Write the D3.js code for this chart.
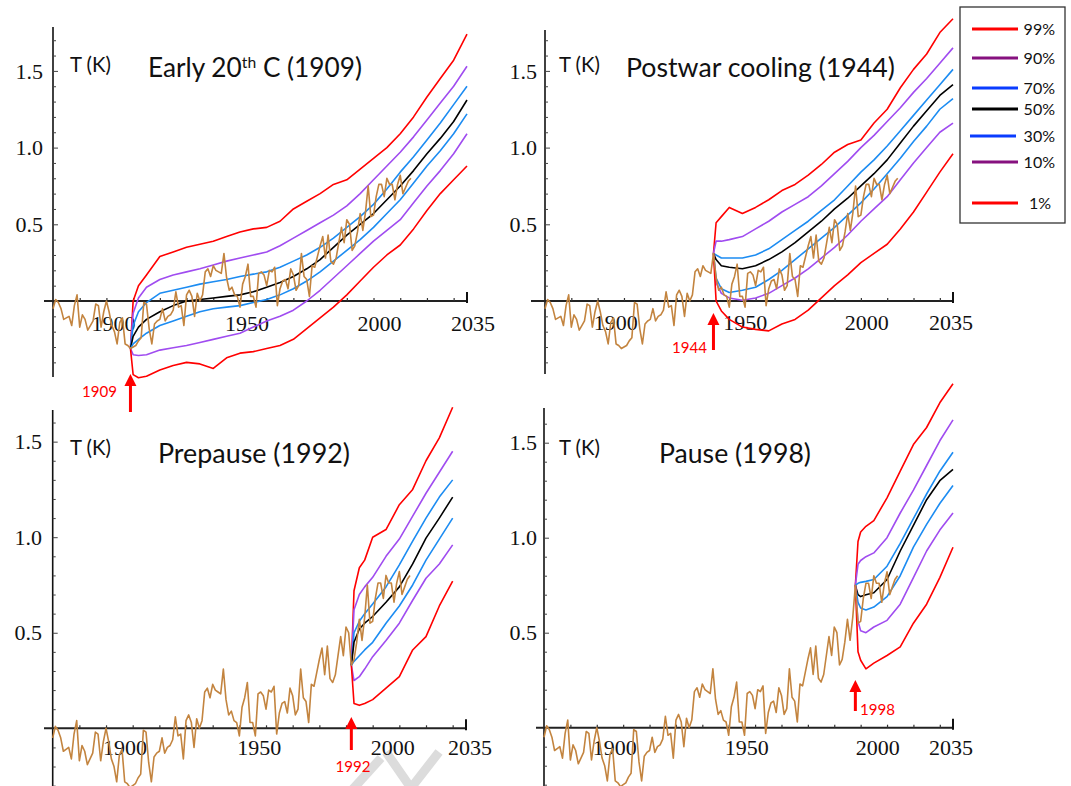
<!DOCTYPE html>
<html><head><meta charset="utf-8">
<script src="https://cdn.jsdelivr.net/npm/d3@7"></script>
<style>body{margin:0;background:#fff}svg{display:block}</style>
</head><body>
<svg id="chart" width="1071" height="786"></svg>
<script>
// ---------------- data ----------------
const tempStartYear = 1880;
const tempValues = [
 -0.05, 0.01,-0.01,-0.05,-0.12,-0.11,-0.10,-0.16,-0.03, 0.04,
 -0.17,-0.09,-0.12,-0.19,-0.16,-0.13,-0.02,-0.03,-0.17,-0.07,
  0.00,-0.07,-0.16,-0.20,-0.28,-0.14,-0.11,-0.28,-0.29,-0.31,
 -0.30,-0.29,-0.26,-0.24,-0.01,-0.02,-0.18,-0.28,-0.15,-0.13,
 -0.12,-0.05,-0.13,-0.10,-0.09,-0.06, 0.06,-0.04,-0.03,-0.16,
  0.04, 0.07, 0.03,-0.10, 0.05, 0.00, 0.04, 0.19, 0.21, 0.16,
  0.23, 0.20, 0.19, 0.18, 0.31, 0.15, 0.07, 0.09, 0.04, 0.03,
 -0.04, 0.11, 0.16, 0.24, 0.03, 0.03,-0.04, 0.18, 0.19, 0.17,
  0.10, 0.20, 0.19, 0.22,-0.03, 0.08, 0.13, 0.14, 0.08, 0.21,
  0.17, 0.07, 0.10, 0.31, 0.16, 0.14, 0.03, 0.23, 0.22, 0.29,
  0.36, 0.42, 0.28, 0.43, 0.26, 0.24, 0.28, 0.38, 0.48, 0.38,
  0.53, 0.50, 0.33, 0.36, 0.45, 0.57, 0.46, 0.58, 0.75, 0.55,
  0.56, 0.68, 0.76, 0.76, 0.68, 0.80, 0.76, 0.76, 0.66, 0.76,
  0.82, 0.70, 0.74, 0.78, 0.80
];

const quantileLabels = ["99%", "90%", "70%", "50%", "30%", "10%", "1%"];

// Panel 1: Early 20th C (1909)
const p1Years = [1909,1910,1912,1915,1920,1925,1930,1935,1940,1945,1950,1955,1960,1965,1970,1975,1980,1985,1990,1995,2000,2005,2010,2015,2020,2025,2030,2035];
const p1Q99 = [-0.31,0.00,0.10,0.17,0.29,0.32,0.35,0.37,0.39,0.42,0.45,0.47,0.48,0.52,0.60,0.65,0.70,0.76,0.79,0.86,0.93,1.00,1.09,1.20,1.33,1.45,1.57,1.74];
const p1Q90 = [-0.31,-0.08,0.02,0.09,0.14,0.17,0.19,0.21,0.235,0.26,0.28,0.30,0.32,0.36,0.41,0.46,0.51,0.56,0.62,0.70,0.79,0.88,0.97,1.07,1.18,1.29,1.40,1.53];
const p1Q70 = [-0.31,-0.16,-0.07,-0.01,0.05,0.07,0.09,0.11,0.125,0.14,0.16,0.175,0.19,0.22,0.26,0.30,0.35,0.41,0.48,0.55,0.63,0.73,0.84,0.94,1.05,1.16,1.28,1.40];
const p1Q50 = [-0.31,-0.23,-0.17,-0.12,-0.07,-0.03,0.00,0.01,0.02,0.03,0.04,0.06,0.09,0.12,0.16,0.21,0.27,0.35,0.43,0.50,0.57,0.66,0.75,0.85,0.96,1.06,1.17,1.31];
const p1Q30 = [-0.31,-0.28,-0.25,-0.21,-0.16,-0.13,-0.10,-0.07,-0.05,-0.04,-0.03,-0.01,0.01,0.04,0.08,0.13,0.19,0.26,0.33,0.40,0.48,0.57,0.66,0.77,0.88,0.98,1.09,1.22];
const p1Q10 = [-0.31,-0.35,-0.355,-0.35,-0.32,-0.305,-0.29,-0.27,-0.25,-0.23,-0.21,-0.17,-0.13,-0.10,-0.06,0.00,0.07,0.15,0.23,0.31,0.39,0.46,0.53,0.64,0.75,0.85,0.96,1.09];
const p1Q01 = [-0.31,-0.48,-0.50,-0.49,-0.45,-0.42,-0.40,-0.41,-0.44,-0.37,-0.34,-0.33,-0.31,-0.29,-0.25,-0.18,-0.11,-0.04,0.04,0.13,0.22,0.30,0.365,0.47,0.59,0.70,0.79,0.88];

// Panel 2: Postwar cooling (1944)
const p2Years = [1944,1945,1947,1950,1955,1960,1965,1970,1975,1980,1985,1990,1995,2000,2005,2010,2015,2020,2025,2030,2035];
const p2Q99 = [0.31,0.51,0.55,0.61,0.57,0.61,0.66,0.72,0.76,0.82,0.89,0.97,1.02,1.05,1.16,1.25,1.39,1.51,1.61,1.75,1.84];
const p2Q90 = [0.31,0.39,0.39,0.40,0.42,0.47,0.52,0.58,0.63,0.68,0.75,0.83,0.91,1.00,1.08,1.17,1.26,1.36,1.45,1.55,1.65];
const p2Q70 = [0.31,0.30,0.28,0.28,0.28,0.30,0.34,0.40,0.46,0.52,0.59,0.66,0.75,0.84,0.92,1.01,1.11,1.21,1.31,1.41,1.51];
const p2Q50 = [0.31,0.27,0.23,0.22,0.21,0.23,0.27,0.32,0.38,0.45,0.52,0.60,0.67,0.75,0.83,0.92,1.03,1.14,1.24,1.34,1.41];
const p2Q30 = [0.31,0.15,0.08,0.055,0.07,0.09,0.14,0.20,0.27,0.34,0.41,0.48,0.56,0.64,0.73,0.83,0.93,1.04,1.14,1.25,1.32];
const p2Q10 = [0.31,0.12,0.05,0.02,0.005,0.02,0.05,0.10,0.15,0.21,0.28,0.35,0.43,0.52,0.60,0.68,0.79,0.90,1.00,1.10,1.16];
const p2Q01 = [0.31,0.00,-0.065,-0.12,-0.17,-0.185,-0.195,-0.15,-0.12,-0.06,0.02,0.10,0.17,0.25,0.31,0.37,0.47,0.58,0.71,0.84,0.96];

// Panel 3: Prepause (1992)
const p3Years = [1992,1993,1995,1997,2000,2005,2010,2015,2020,2025,2030];
const p3Q99 = [0.33,0.72,0.84,0.88,1.00,1.04,1.17,1.25,1.40,1.52,1.68];
const p3Q90 = [0.33,0.62,0.70,0.74,0.79,0.90,0.99,1.11,1.23,1.34,1.45];
const p3Q70 = [0.33,0.50,0.56,0.60,0.65,0.74,0.855,0.98,1.10,1.21,1.30];
const p3Q50 = [0.33,0.45,0.52,0.55,0.585,0.66,0.74,0.86,0.995,1.10,1.21];
const p3Q30 = [0.33,0.35,0.38,0.41,0.45,0.55,0.64,0.75,0.88,0.99,1.10];
const p3Q10 = [0.33,0.25,0.27,0.31,0.375,0.46,0.55,0.67,0.785,0.86,0.96];
const p3Q01 = [0.33,0.13,0.12,0.13,0.15,0.21,0.27,0.41,0.48,0.64,0.77];

// Panel 4: Pause (1998)
const p4Years = [1998,1999,2000,2002,2005,2010,2015,2020,2025,2030,2035];
const p4Q99 = [0.75,0.98,1.03,1.06,1.09,1.21,1.35,1.49,1.58,1.71,1.81];
const p4Q90 = [0.75,0.86,0.88,0.90,0.92,1.00,1.13,1.25,1.38,1.51,1.62];
const p4Q70 = [0.75,0.76,0.765,0.77,0.78,0.85,0.97,1.10,1.23,1.35,1.45];
const p4Q50 = [0.75,0.70,0.69,0.70,0.71,0.78,0.93,1.065,1.20,1.30,1.36];
const p4Q30 = [0.75,0.66,0.63,0.62,0.635,0.69,0.80,0.95,1.07,1.18,1.275];
const p4Q10 = [0.75,0.56,0.51,0.50,0.53,0.565,0.65,0.79,0.93,1.04,1.13];
const p4Q01 = [0.75,0.40,0.355,0.31,0.34,0.38,0.425,0.55,0.65,0.79,0.95];

const xTickYears = [1900, 1950, 2000, 2035];
const xTickLabels = ["1900", "1950", "2000", "2035"];
const yTickValues = [0.5, 1.0, 1.5];
const yTickLabels = ["0.5", "1.0", "1.5"];
const startYears = [1909, 1944, 1992, 1998];
const panelTitles = ["Early 20th C (1909)", "Postwar cooling (1944)", "Prepause (1992)", "Pause (1998)"];

// ---------------- styles ----------------
const curveColors = ["#ff0000", "#a04cf0", "#1c8cf2", "#000000", "#1c8cf2", "#a04cf0", "#ff0000"];
const legendColors = ["#ff0000", "#86117f", "#0a3cff", "#000000", "#0a3cff", "#86117f", "#ff0000"];
const tempColor = "#c3843f";
const serif = "'Liberation Serif','Times New Roman',serif";
const sans = "Lato,'Open Sans',sans-serif";

// ---------------- layout ----------------
const layouts = [
  {x0:53, x1:467, zeroY:301, pxPerK:153.4, yTop:27, yBot:377, axStart:44, endYear:2035,
   lblDx:[7,7,6,6], lblBase:331, yLblRight:43,
   title:{x:148, base:77, w:214}, tk:{x:70, base:72, w:41},
   arrow:{tip:374, tail:412, lx:117, lbase:397, anchor:"end"}},
  {x0:545, x1:953, zeroY:301, pxPerK:153.4, yTop:30, yBot:374, axStart:531, endYear:2035,
   lblDx:[18,16,6,-2], lblBase:330, yLblRight:537,
   title:{x:626, base:77, w:269}, tk:{x:559, base:72, w:41},
   arrow:{tip:313, tail:350, lx:707, lbase:353, anchor:"end"}},
  {x0:52.7, x1:466, zeroY:728.3, pxPerK:191.1, yTop:410, yBot:790, axStart:44, endYear:2030,
   lblDx:[19,20,20,4], lblBase:755, yLblRight:42,
   title:{x:158, base:463, w:192}, tk:{x:70, base:455, w:41},
   arrow:{tip:717, tail:750, lx:353, lbase:772, anchor:"middle"}},
  {x0:544, x1:953, zeroY:727.7, pxPerK:190, yTop:408, yBot:790, axStart:536, endYear:2035,
   lblDx:[18,18,17,-2], lblBase:755, yLblRight:537,
   title:{x:659, base:463, w:152}, tk:{x:559, base:455, w:41},
   arrow:{tip:680, tail:711, lx:860, lbase:715, anchor:"start"}}
];

const panelData = [
  {years:p1Years, series:[p1Q99,p1Q90,p1Q70,p1Q50,p1Q30,p1Q10,p1Q01]},
  {years:p2Years, series:[p2Q99,p2Q90,p2Q70,p2Q50,p2Q30,p2Q10,p2Q01]},
  {years:p3Years, series:[p3Q99,p3Q90,p3Q70,p3Q50,p3Q30,p3Q10,p3Q01]},
  {years:p4Years, series:[p4Q99,p4Q90,p4Q70,p4Q50,p4Q30,p4Q10,p4Q01]}
];

const svg = d3.select("#chart");

function fitWidth(sel, w) {
  const fs = parseFloat(sel.attr("font-size"));
  const cur = sel.node().getComputedTextLength();
  if (cur > 0) sel.attr("font-size", (fs * w / cur).toFixed(2));
  return parseFloat(sel.attr("font-size"));
}

// faint watermark strokes (decoration of the source image)
const wm = svg.append("g").attr("fill", "none").attr("stroke", "#dcdcdc").attr("stroke-width", 9)
  .attr("stroke-linecap", "butt");
wm.append("path").attr("d", "M352,790 L381,758");
wm.append("path").attr("d", "M386,752 L411,788 L439,752");

const tempPts = tempValues.map((v, i) => [tempStartYear + i, v]);

layouts.forEach((L, pi) => {
  const g = svg.append("g");
  const x = d3.scaleLinear().domain([1880, 2035]).range([L.x0, L.x1]);
  const y = d3.scaleLinear().domain([0, 1]).range([L.zeroY, L.zeroY - L.pxPerK]);
  const line = d3.line().x(d => x(d[0])).y(d => y(d[1]));

  // y axis line
  g.append("line").attr("x1", L.x0).attr("x2", L.x0).attr("y1", L.yTop).attr("y2", L.yBot)
    .attr("stroke", "#111").attr("stroke-width", 1.6);
  // minor y ticks
  const yMinor = d3.range(-5, 18).map(k => k / 10).filter(v => y(v) > L.yTop + 2 && y(v) < L.yBot - 2 && Math.abs(v) > 1e-9);
  const yAx = d3.axisRight(y).tickValues(yMinor).tickSize(3).tickFormat("");
  const ya = g.append("g").attr("transform", `translate(${L.x0},0)`).call(yAx);
  ya.select(".domain").remove();
  ya.selectAll(".tick line").attr("stroke", "#444").attr("stroke-width", 1)
    .attr("x2", d => (Math.abs(d * 2 - Math.round(d * 2)) < 1e-9) ? 5 : 3);
  // y labels
  g.selectAll(".ylab").data(yTickValues).join("text")
    .attr("x", L.yLblRight).attr("y", d => y(d)).attr("dy", "0.35em")
    .attr("text-anchor", "end").attr("font-family", serif).attr("font-size", 22)
    .attr("fill", "#111").text((d, i) => yTickLabels[i]);

  // x axis
  g.append("line").attr("x1", L.axStart).attr("x2", L.x1).attr("y1", L.zeroY).attr("y2", L.zeroY)
    .attr("stroke", "#222").attr("stroke-width", 2);
  const xAx = d3.axisTop(x).tickValues(d3.range(1890, 2031, 10)).tickSize(3).tickFormat("");
  const xa = g.append("g").attr("transform", `translate(0,${L.zeroY})`).call(xAx);
  xa.select(".domain").remove();
  xa.selectAll(".tick line").attr("stroke", "#333").attr("stroke-width", 1.2);
  g.append("line").attr("x1", L.x1).attr("x2", L.x1).attr("y1", L.zeroY - 9).attr("y2", L.zeroY + 2)
    .attr("stroke", "#111").attr("stroke-width", 2);
  g.selectAll(".xlab").data(xTickYears).join("text")
    .attr("x", (d, i) => x(d) + L.lblDx[i]).attr("y", L.lblBase)
    .attr("text-anchor", "middle").attr("font-family", serif).attr("font-size", 22)
    .attr("fill", "#111").text((d, i) => xTickLabels[i]);

  // quantile curves
  const P = panelData[pi];
  P.series.forEach((s, si) => {
    const pts = P.years.map((yr, k) => [yr, s[k]]);
    g.append("path").datum(pts).attr("d", line).attr("fill", "none")
      .attr("stroke", curveColors[si]).attr("stroke-width", 1.6).attr("stroke-linejoin", "round");
  });
  // temperature series
  g.append("path").datum(tempPts).attr("d", line).attr("fill", "none")
    .attr("stroke", tempColor).attr("stroke-width", 1.6).attr("stroke-linejoin", "round");

  // T (K)
  const tk = g.append("text").attr("x", L.tk.x).attr("y", L.tk.base)
    .attr("font-family", sans).attr("font-size", 21).attr("fill", "#111").text("T (K)");
  fitWidth(tk, L.tk.w);

  // title
  const t = g.append("text").attr("x", L.title.x).attr("y", L.title.base)
    .attr("font-family", sans).attr("font-size", 28).attr("fill", "#111");
  if (pi === 0) {
    t.append("tspan").text("Early 20");
    t.append("tspan").attr("font-size", "0.6em").attr("dy", "-0.55em").text("th");
    t.append("tspan").attr("dy", "0.33em").text(" C (1909)");
  } else {
    t.text(panelTitles[pi]);
  }
  fitWidth(t, L.title.w);

  // arrow
  const ax = x(startYears[pi]);
  g.append("line").attr("x1", ax).attr("x2", ax).attr("y1", L.arrow.tip + 8).attr("y2", L.arrow.tail)
    .attr("stroke", "#ff0000").attr("stroke-width", 3);
  g.append("path").attr("d", `M${ax},${L.arrow.tip} L${ax - 6},${L.arrow.tip + 12} L${ax + 6},${L.arrow.tip + 12} Z`)
    .attr("fill", "#ff0000");
  const al = g.append("text").attr("x", L.arrow.lx).attr("y", L.arrow.lbase)
    .attr("text-anchor", L.arrow.anchor).attr("font-family", sans).attr("font-size", 15)
    .attr("fill", "#ff0000").text(String(startYears[pi]));
  fitWidth(al, 35);
});

// ---------------- legend ----------------
const lg = svg.append("g");
lg.append("rect").attr("x", 960).attr("y", 7).attr("width", 105).attr("height", 216)
  .attr("fill", "#fff").attr("stroke", "#333").attr("stroke-width", 1.3);
const legendRowY = [29, 58, 88, 109, 136, 162, 203];
const legendLineX = [[972,1018],[972,1018],[972,1018],[972,1018],[970,1016],[972,1018],[972,1018]];
const legendFs = 16;
quantileLabels.forEach((lab, i) => {
  lg.append("line").attr("x1", legendLineX[i][0]).attr("x2", legendLineX[i][1])
    .attr("y1", legendRowY[i]).attr("y2", legendRowY[i])
    .attr("stroke", legendColors[i]).attr("stroke-width", 3.2);
  lg.append("text").attr("x", lab === "1%" ? 1051 : 1055).attr("y", legendRowY[i]).attr("dy", "0.36em")
    .attr("text-anchor", "end").attr("font-family", sans).attr("font-size", legendFs)
    .attr("fill", "#111").text(lab);
});
</script>
</body></html>
